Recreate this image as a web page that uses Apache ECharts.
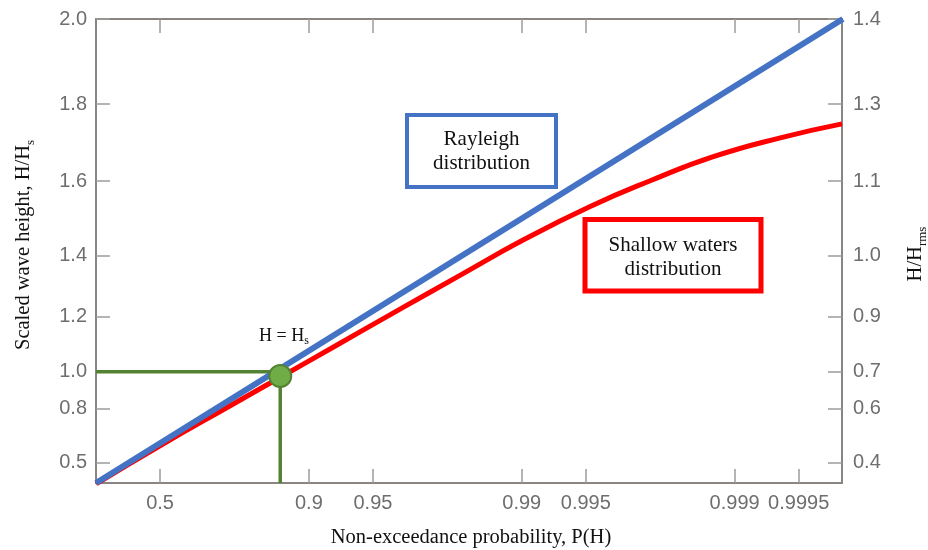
<!DOCTYPE html>
<html><head><meta charset="utf-8">
<script src="https://cdn.jsdelivr.net/npm/echarts@6/dist/echarts.min.js"></script>
<style>html,body{margin:0;padding:0;background:#fff}#c{width:928px;height:550px}</style>
</head><body><div id="c"></div>
<script>
// ---- data ----
// x axis: non-exceedance probability tick labels (axis is linear in -ln(1-P))
const xTickLabels = ['0.5', '0.9', '0.95', '0.99', '0.995', '0.999', '0.9995'];
// left axis labels (H/Hs) and their positions as drawn, in (H/Hs)^2 axis units
const yTickLabels = ['0.5', '0.8', '1.0', '1.2', '1.4', '1.6', '1.8', '2.0'];
const yTickPos = [0.230, 0.689, 1.0, 1.468, 1.987, 2.622, 3.277, 4.0];
// right axis labels (H/Hrms) at the same positions
const yRightLabels = ['0.4', '0.6', '0.7', '0.9', '1.0', '1.1', '1.3', '1.4'];
// Rayleigh distribution (P, H/Hs)
const rayleighP = [0, 0.99969];
const rayleighH = [0.232, 2.0];
// Shallow waters distribution (P, H/Hs)
const shallowP = [0, 0.497, 0.7645, 0.8644, 0.9245, 0.9627, 0.98049, 0.99014, 0.99523, 0.99751, 0.998741, 0.99939, 0.999687];
const shallowH = [0.214, 0.607, 0.842, 0.9775, 1.103, 1.238, 1.349, 1.456, 1.551, 1.620, 1.682, 1.729, 1.763];
// H = Hs marker
const markP = 0.8637, markH = 1.0;
const dotP = 0.8637, dotH = 0.982;
// axis extents
const xMinP = 0, xMaxP = 0.999687;
const yMinH = 0.2324, yMaxH = 2.0;

// ---- transforms ----
const tx = p => -Math.log(1 - p);
const ty = h => h * h;
const xTickVals = xTickLabels.map(s => tx(parseFloat(s)));
const xMin = tx(xMinP), xMax = tx(xMaxP);
const yMin = ty(yMinH), yMax = ty(yMaxH);
const pick = (vals, labels) => v => {
  let bi = 0, bd = Infinity;
  vals.forEach((t, i) => { const d = Math.abs(t - v); if (d < bd) { bd = d; bi = i; } });
  return labels[bi];
};
const zip = (P, H) => P.map((p, i) => [tx(p), ty(H[i])]);

const SANS = "'Liberation Sans', Arial, Helvetica, sans-serif";
const SERIF = "'Liberation Serif', 'Times New Roman', serif";
const axisCol = '#8a8580';
const tickStyle = { show: true, inside: true, length: 14, lineStyle: { color: '#9c9c9c', width: 1.5 } };
const labelStyle = { color: '#6e6e6e', fontSize: 20, fontFamily: SANS };

const chart = echarts.init(document.getElementById('c'), null, { renderer: 'canvas' });
chart.setOption({
  backgroundColor: '#fff',
  animation: false,
  grid: { left: 96, top: 19, width: 746, height: 464, containLabel: false, outerBoundsMode: 'none' },
  xAxis: [
    { type: 'value', position: 'bottom', min: xMin, max: xMax, splitLine: { show: false },
      axisLine: { show: true, onZero: false, lineStyle: { color: axisCol, width: 2 } },
      axisTick: Object.assign({}, tickStyle, { customValues: xTickVals }),
      axisLabel: Object.assign({}, labelStyle, { margin: 10, customValues: xTickVals, formatter: pick(xTickVals, xTickLabels) }) },
    { type: 'value', position: 'top', min: xMin, max: xMax, splitLine: { show: false },
      axisLine: { show: true, onZero: false, lineStyle: { color: axisCol, width: 2 } },
      axisTick: Object.assign({}, tickStyle, { customValues: xTickVals }),
      axisLabel: { show: false } }
  ],
  yAxis: [
    { type: 'value', position: 'left', min: yMin, max: yMax, splitLine: { show: false },
      axisLine: { show: true, onZero: false, lineStyle: { color: axisCol, width: 2 } },
      axisTick: Object.assign({}, tickStyle, { customValues: yTickPos }),
      axisLabel: Object.assign({}, labelStyle, { margin: 9, customValues: yTickPos, formatter: pick(yTickPos, yTickLabels) }) },
    { type: 'value', position: 'right', min: yMin, max: yMax, splitLine: { show: false },
      axisLine: { show: true, onZero: false, lineStyle: { color: axisCol, width: 2 } },
      axisTick: Object.assign({}, tickStyle, { customValues: yTickPos }),
      axisLabel: Object.assign({}, labelStyle, { margin: 11, customValues: yTickPos, formatter: pick(yTickPos, yRightLabels) }) }
  ],
  series: [
    { type: 'line', name: 'hline', data: [[xMin, ty(markH)], [tx(markP), ty(markH)]], symbol: 'none',
      lineStyle: { color: '#548235', width: 3.5 }, z: 2 },
    { type: 'line', name: 'vline', data: [[tx(markP), ty(markH)], [tx(markP), yMin]], symbol: 'none',
      lineStyle: { color: '#548235', width: 3.5 }, z: 2 },
    { type: 'line', name: 'Shallow waters distribution', data: zip(shallowP, shallowH), symbol: 'none',
      smooth: true,
      lineStyle: { color: '#ff0000', width: 5 }, z: 3 },
    { type: 'line', name: 'Rayleigh distribution', data: zip(rayleighP, rayleighH), symbol: 'none',
      lineStyle: { color: '#4472c4', width: 6 }, z: 4 },
    { type: 'scatter', name: 'H = Hs', data: [[tx(dotP), ty(dotH)]], symbolSize: 22,
      itemStyle: { color: '#70ad47', borderColor: '#548235', borderWidth: 2, opacity: 1 }, z: 5 }
  ],
  graphic: [
    { type: 'rect', shape: { x: 407, y: 115, width: 149, height: 72 }, style: { fill: '#fff', stroke: '#4472c4', lineWidth: 4 }, z: 10 },
    { type: 'text', x: 481.5, y: 151.5, style: { text: 'Rayleigh\ndistribution', fill: '#111', font: '21px ' + SERIF, lineHeight: 24, textAlign: 'center', textVerticalAlign: 'middle' }, z: 11 },
    { type: 'rect', shape: { x: 585, y: 219.5, width: 176, height: 71.5 }, style: { fill: '#fff', stroke: '#ff0000', lineWidth: 5 }, z: 10 },
    { type: 'text', x: 673, y: 257, style: { text: 'Shallow waters\ndistribution', fill: '#111', font: '21px ' + SERIF, lineHeight: 24, textAlign: 'center', textVerticalAlign: 'middle' }, z: 11 },
    { type: 'text', x: 284, y: 336, style: { text: '{m|H = H}{s|s}', textAlign: 'center', textVerticalAlign: 'middle',
        rich: { m: { fontSize: 18, fontFamily: SERIF, fill: '#111', lineHeight: 22 }, s: { fontSize: 12, fontFamily: SERIF, fill: '#111', lineHeight: 12, verticalAlign: 'bottom' } } }, z: 11 },
    { type: 'text', x: 24, y: 245, rotation: Math.PI / 2, style: { text: '{m|Scaled wave height, H/H}{s|s}', textAlign: 'center', textVerticalAlign: 'middle',
        rich: { m: { fontSize: 20.5, fontFamily: SERIF, fill: '#111', lineHeight: 26 }, s: { fontSize: 13, fontFamily: SERIF, fill: '#111', lineHeight: 13, verticalAlign: 'bottom' } } }, z: 11 },
    { type: 'text', x: 471, y: 538, style: { text: 'Non-exceedance probability, P(H)', fill: '#111', font: '20.5px ' + SERIF, textAlign: 'center', textVerticalAlign: 'middle' }, z: 11 },
    { type: 'text', x: 916, y: 254, rotation: Math.PI / 2, style: { text: '{m|H/H}{s|rms}', textAlign: 'center', textVerticalAlign: 'middle',
        rich: { m: { fontSize: 20.5, fontFamily: SERIF, fill: '#111', lineHeight: 26 }, s: { fontSize: 13, fontFamily: SERIF, fill: '#111', lineHeight: 13, verticalAlign: 'bottom' } } }, z: 11 }
  ]
});
</script>
</body></html>
